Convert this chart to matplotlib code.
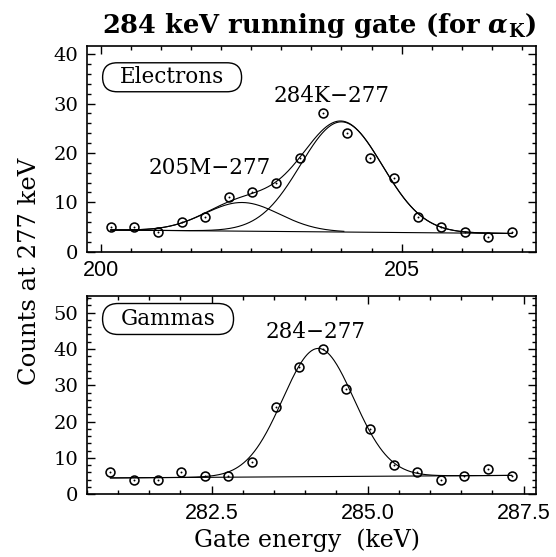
import numpy as np
import matplotlib
matplotlib.use("Agg")
import matplotlib.pyplot as plt
from matplotlib.patches import FancyBboxPatch
from matplotlib.ticker import MultipleLocator, FormatStrFormatter

plt.rcParams["mathtext.fontset"] = "dejavuserif"

SERIF = "DejaVu Serif"
SANS = "Liberation Sans"

# ---- Electron-gated spectrum (top panel) ----
e_energy = [200.17, 200.56, 200.95, 201.35, 201.74, 202.13, 202.52, 202.91, 203.31,
            203.70, 204.09, 204.48, 204.87, 205.27, 205.66, 206.05, 206.44, 206.83]
e_counts = [5, 5, 4, 6, 7, 11, 12, 14, 19, 28, 24, 19, 15, 7, 5, 4, 3, 4]

# fit: linear background + two gaussians (205M-277 and 284K-277)
e_bg = (4.4, 3.7)                 # background at first / last point
e_peak_m = (5.8, 202.35, 0.62)    # amplitude, centre, sigma
e_peak_k = (22.3, 204.00, 0.68)

# ---- Gamma-gated spectrum (bottom panel) ----
g_energy = [280.88, 281.26, 281.64, 282.01, 282.39, 282.77, 283.15, 283.53, 283.90,
            284.28, 284.66, 285.04, 285.42, 285.79, 286.17, 286.55, 286.93, 287.31]
g_counts = [6, 4, 4, 6, 5, 5, 9, 24, 35, 40, 29, 18, 8, 6, 4, 5, 7, 5]

g_bg = (4.5, 5.2)
g_peak = (35.3, 284.21, 0.57)


def gauss(x, p):
    a, c, s = p
    return a * np.exp(-0.5 * ((x - c) / s) ** 2)


def linbg(x, x0, x1, b):
    return b[0] + (b[1] - b[0]) * (x - x0) / (x1 - x0)


fig = plt.figure(figsize=(5.56, 5.57), dpi=100)
ax1 = fig.add_axes([0.156, 0.548, 0.808, 0.369])
ax2 = fig.add_axes([0.156, 0.1126, 0.808, 0.356])

fit_kw = dict(color="black", lw=0.8)


def draw_points(ax, x, y):
    ax.plot(x, y, ls="none", marker="o", ms=6.4, mfc="none", mec="black", mew=1.15, zorder=4)
    ax.plot(x, y, ls="none", marker="o", ms=1.4, mfc="black", mec="black", mew=0, zorder=4)


# top panel
xe = np.linspace(e_energy[0], e_energy[-1], 600)
bge = linbg(xe, e_energy[0], e_energy[-1], e_bg)
ax1.plot(xe, bge, **fit_kw)
mask_m = xe <= 204.05
ax1.plot(xe[mask_m], (bge + gauss(xe, e_peak_m))[mask_m], **fit_kw)
ax1.plot(xe, bge + gauss(xe, e_peak_k), **fit_kw)
ax1.plot(xe, bge + gauss(xe, e_peak_m) + gauss(xe, e_peak_k), **fit_kw)
draw_points(ax1, e_energy, e_counts)
ax1.set_xlim(199.77, 207.23)
ax1.set_ylim(0, 41.6)
ax1.xaxis.set_major_locator(MultipleLocator(5))
ax1.xaxis.set_minor_locator(MultipleLocator(0.5))
ax1.yaxis.set_major_locator(MultipleLocator(10))
ax1.yaxis.set_minor_locator(MultipleLocator(2))

# bottom panel
xg = np.linspace(g_energy[0], g_energy[-1], 600)
bgg = linbg(xg, g_energy[0], g_energy[-1], g_bg)
ax2.plot(xg, bgg, **fit_kw)
ax2.plot(xg, bgg + gauss(xg, g_peak), **fit_kw)
draw_points(ax2, g_energy, g_counts)
ax2.set_xlim(280.50, 287.70)
ax2.set_ylim(0, 54.6)
ax2.xaxis.set_major_locator(MultipleLocator(2.5))
ax2.xaxis.set_minor_locator(MultipleLocator(0.5))
ax2.yaxis.set_major_locator(MultipleLocator(10))
ax2.yaxis.set_minor_locator(MultipleLocator(2))
ax2.xaxis.set_major_formatter(FormatStrFormatter("%.1f"))

for ax in (ax1, ax2):
    for sp in ax.spines.values():
        sp.set_linewidth(1.2)
    ax.tick_params(which="both", direction="in", top=True, right=True, width=1.0)
    ax.tick_params(which="major", length=6)
    ax.tick_params(which="minor", length=3)
    ax.tick_params(axis="x", pad=6)
    ax.tick_params(axis="y", pad=6)
    for lab in ax.get_xticklabels():
        lab.set_fontfamily(SANS)
        lab.set_fontsize(15.5)
    for lab in ax.get_yticklabels():
        lab.set_fontfamily(SERIF)
        lab.set_fontsize(14)

# peak labels
txt_kw = dict(family=SERIF, fontsize=15.5, ha="center", va="center")
ax1.text(0.546, 0.757, "284K\u2212277", transform=ax1.transAxes, **txt_kw)
ax1.text(0.273, 0.406, "205M\u2212277", transform=ax1.transAxes, **txt_kw)
ax2.text(0.51, 0.819, "284\u2212277", transform=ax2.transAxes, **txt_kw)


def boxed_label(ax, text, fx, fy, w_in, h_in):
    # stadium-shaped frame around a panel tag, drawn in inches so the ends stay round
    disp = ax.transAxes.transform((fx, fy))
    cx, cy = fig.dpi_scale_trans.inverted().transform(disp)
    r = h_in / 2
    patch = FancyBboxPatch((cx - w_in / 2 + r, cy - h_in / 2 + r), w_in - 2 * r, h_in - 2 * r,
                           boxstyle=f"round,pad={r * 0.999},rounding_size={r}",
                           transform=fig.dpi_scale_trans, fc="white", ec="black",
                           lw=1.0, zorder=5)
    fig.add_artist(patch)
    fig.text(cx / fig.get_figwidth(), cy / fig.get_figheight(), text, zorder=6, **txt_kw)


boxed_label(ax1, "Electrons", 0.19, 0.849, 1.39, 0.29)
boxed_label(ax2, "Gammas", 0.181, 0.884, 1.31, 0.31)

fig.text(319 / 556, 1 - 33 / 557, r"284 keV running gate (for $\boldsymbol{\alpha}_{\mathbf{K}}$)",
         family=SERIF, fontweight="bold", fontsize=18.5, ha="center", va="baseline")
fig.text(307 / 556, 1 - 540 / 557, "Gate energy  (keV)", family=SERIF, fontsize=17,
         ha="center", va="center")
fig.text(30 / 556, 1 - 271 / 557, "Counts at 277 keV", family=SERIF, fontsize=17.5,
         rotation=90, ha="center", va="center")

fig.savefig("out.png", dpi=100)
